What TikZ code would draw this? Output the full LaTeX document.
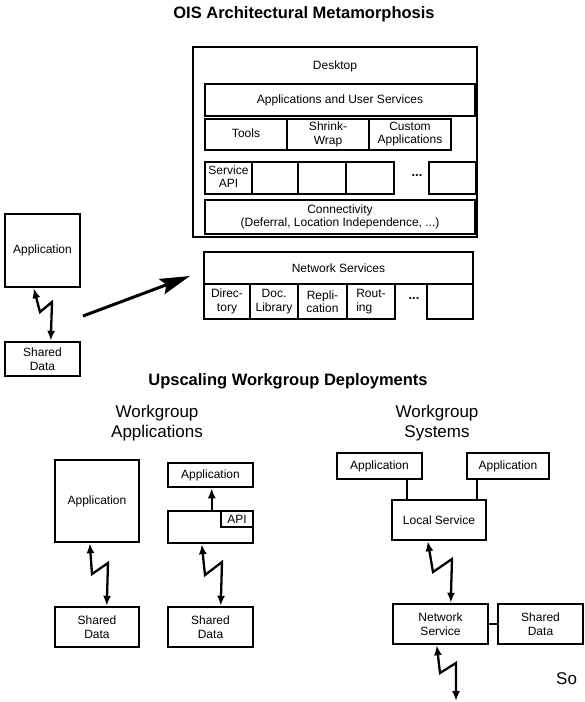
\documentclass[tikz,border=0pt]{standalone}
\usepackage{fontspec}
\setmainfont{Liberation Sans}
\usetikzlibrary{arrows.meta}
\newcommand\fz[2]{\fontsize{#1}{#2}\selectfont}
\newcommand\mybox[7][]{\node[box,minimum width={(#5-#3)*1pt},minimum height={(#6-#4)*1pt},#1] (#2) at ({(#3+#5)/2},{(#4+#6)/2}) {#7};}
\begin{document}
\begin{tikzpicture}[x=1pt,y=-1pt,
  box/.style={draw,line width=2.5pt,inner sep=0pt,align=center,font=\fz{12}{13.5}},
  txt/.style={inner sep=0pt,align=center,font=\fz{12}{13.5}},
  heading/.style={inner sep=0pt,align=center,font=\fz{17}{20}},
  ttl/.style={inner sep=0pt,font=\bfseries\fz{16.5}{19}},
  bolt/.style={line width=2.3pt,{Latex[length=10pt,width=8pt]}-{Latex[length=10pt,width=8pt]}},
  plain/.style={line width=2.5pt},
  bigarrow/.style={line width=3pt,-{Stealth[length=30pt,width=16pt,inset=5pt]}}]
\useasboundingbox (0,0) rectangle (585,702);

% ---------- top part ----------
\node[ttl] (title1) at (304,14) {OIS Architectural Metamorphosis};

\mybox{desk}{193}{47}{477}{237}{}
\node[txt] (deskLbl) at (335,66) {Desktop};
\mybox{apps}{205}{84}{475}{116}{Applications and User Services}
\mybox{tools}{205}{119}{287}{150}{\raisebox{2pt}{Tools}}
\mybox{shrink}{287}{119}{369}{150}{Shrink-\\Wrap}
\mybox{custom}{369}{119}{451}{150}{\raisebox{3pt}{\fz{12}{13}\begin{tabular}{@{}c@{}}Custom\\Applications\end{tabular}}}
\mybox{sapi}{205}{162}{252}{194}{\raisebox{2pt}{\fz{12}{13}\begin{tabular}{@{}c@{}}Service\\API\end{tabular}}}
\mybox{sb}{252}{162}{298}{194}{}
\mybox{sc}{298}{162}{346}{194}{}
\mybox{sd}{346}{162}{394}{194}{}
\node[txt,font=\bfseries\fz{13}{13}] (sdots) at (417,176) {...};
\mybox{se}{429}{162}{476}{194}{}
\mybox{conn}{205}{200}{475}{234}{Connectivity\\(Deferral, Location Independence, ...)}

\mybox{nets}{204}{252}{473}{284}{Network Services}
\mybox{dir}{204}{284}{250}{319}{Direc-\\tory}
\mybox{doc}{250}{284}{298}{319}{Doc.\\Library}
\mybox{rep}{298}{284}{347}{319}{Repli-\\cation}
\mybox[align=left]{rout}{347}{284}{395}{319}{Rout-\\ing}
\node[txt,font=\bfseries\fz{13}{13}] (ndots) at (414,299) {...};
\mybox{nf}{427}{284}{473}{319}{}

\mybox{appT}{5}{214}{80}{287}{Application}
\mybox{shT}{5}{342}{80}{376}{Shared\\Data}
\draw[bolt] ([xshift=30pt]appT.south west) -- (40,312) -- (52,302) -- ([xshift=47pt]shT.north west);

\coordinate (arTail) at (83,316);
\coordinate (arHead) at (190,276);
\draw[bigarrow] (arTail) -- (arHead);

% ---------- bottom part ----------
\node[ttl] (title2) at (288,381) {Upscaling Workgroup Deployments};
\node[heading] (hA) at (157,423) {Workgroup\\Applications};
\node[heading] (hS) at (437,423) {Workgroup\\Systems};

\mybox{appA}{55}{460}{139}{542}{Application}
\mybox{shA}{55}{607}{139}{647}{Shared\\Data}
\draw[bolt] ([xshift=36pt]appA.south west) -- (92,574) -- (108,563) -- ([xshift=53pt]shA.north west);

\mybox{appB}{168}{463}{253}{487}{Application}
\mybox{apiBlk}{168}{511}{253}{543}{}
\mybox{api}{221}{511}{253}{527}{API}
\draw[line width=2.3pt,-{Latex[length=10pt,width=8pt]}] ([xshift=45pt]apiBlk.north west) -- ([xshift=45pt]appB.south west);
\mybox{shB}{168}{607}{253}{647}{Shared\\Data}
\draw[bolt] ([xshift=35pt]apiBlk.south west) -- (205,575) -- (222,562) -- ([xshift=54pt]shB.north west);

\mybox{appC}{337}{453}{422}{479}{Application}
\mybox{appD}{467}{453}{549}{479}{Application}
\mybox{loc}{392}{500}{486}{540}{Local Service}
\draw[plain] ([xshift=16pt]loc.north west) -- ([xshift=16pt]loc.north west |- appC.south);
\draw[plain] ([xshift=86pt]loc.north west) -- ([xshift=86pt]loc.north west |- appD.south);

\mybox{netS}{393}{604}{488}{644}{Network\\Service}
\mybox{shC}{498}{604}{583}{644}{Shared\\Data}
\draw[bolt] ([xshift=37pt]loc.south west) -- (433,572) -- (452,559) -- ([xshift=59pt]netS.north west);
\draw[plain] (netS.east) -- (shC.west);
\coordinate (boltEnd) at (456,701);
\draw[bolt] ([xshift=45pt]netS.south west) -- (440,673) -- (456,663) -- (boltEnd);

\node[heading,anchor=west] (so) at (556,679) {So};
\end{tikzpicture}
\end{document}
